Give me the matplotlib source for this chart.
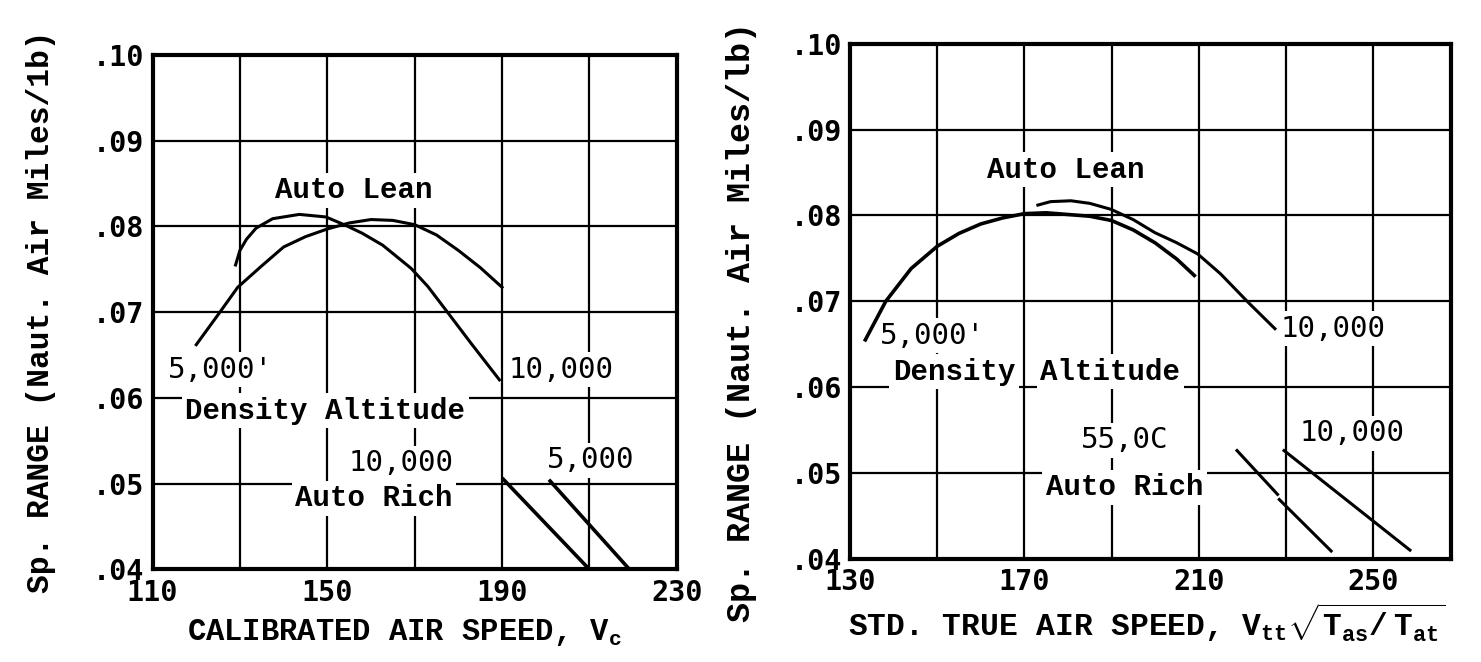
import numpy as np
import matplotlib.pyplot as plt
from matplotlib.ticker import FixedLocator, FuncFormatter

plt.rcParams['mathtext.fontset'] = 'custom'
plt.rcParams['mathtext.rm'] = 'Liberation Mono:bold'
plt.rcParams['mathtext.it'] = 'Liberation Mono:bold'
plt.rcParams['mathtext.bf'] = 'Liberation Mono:bold'

# ---- left chart: calibrated air speed ----
cas_lean_5k = [120.0, 125.0, 129.5, 135.0, 140.0, 145.0, 150.0, 155.0, 160.0,
               165.0, 170.0, 175.0, 180.0, 185.0, 190.0]
sr_lean_5k = [.0662, .0697, .0729, .0754, .0776, .0788, .0797, .0804, .0808,
              .0807, .0802, .0790, .0772, .0752, .0729]

cas_lean_10k = [129.0, 130.0, 131.5, 133.7, 137.5, 143.6, 149.7, 154.3, 158.0,
                162.7, 169.2, 173.0, 177.2, 183.0, 189.4]
sr_lean_10k = [.0755, .0772, .0785, .0798, .0809, .0814, .0811, .0801, .0792,
               .0778, .0751, .0730, .0702, .0663, .0621]

cas_rich_10k = [190.3, 209.6]
sr_rich_10k = [.0505, .0402]
cas_rich_5k = [201.0, 218.8]
sr_rich_5k = [.0503, .0402]

# ---- right chart: std true air speed ----
tas_lean_5k = [133.5, 138.2, 144.0, 150.0, 155.0, 160.0, 165.0, 170.0, 175.0,
               180.0, 185.0, 190.0, 195.0, 200.0, 205.0, 209.0]
sr2_lean_5k = [.0655, .0700, .0738, .0764, .0779, .0790, .0797, .0802, .0803,
               .0801, .0799, .0794, .0783, .0768, .0749, .0730]

tas_lean_10k = [173.1, 176.0, 180.7, 185.0, 189.9, 195.0, 199.9, 205.0, 209.8,
                215.0, 221.3, 227.5]
sr2_lean_10k = [.0812, .0816, .0817, .0814, .0807, .0795, .0780, .0768, .0755,
                .0732, .0699, .0668]

tas_rich_5k_a = [218.8, 228.1]
sr2_rich_5k_a = [.0526, .0475]
tas_rich_5k_b = [228.5, 240.4]
sr2_rich_5k_b = [.0469, .0409]
tas_rich_10k = [229.6, 258.5]
sr2_rich_10k = [.0526, .0410]

y_ticks = [.04, .05, .06, .07, .08, .09, .10]

fig = plt.figure(figsize=(14.81, 6.62), dpi=100)
ax1 = fig.add_axes([0.103, 0.140, 0.354, 0.777])
ax2 = fig.add_axes([0.574, 0.156, 0.406, 0.778])

box = dict(facecolor='white', edgecolor='none', boxstyle='square,pad=0.12')
num_font = dict(family='DejaVu Sans Mono', fontsize=21, zorder=1.8, bbox=box)
bold_font = dict(family='Liberation Mono', weight='bold', fontsize=21,
                 zorder=1.8, bbox=box)


def style(ax, xlim, major, minor):
    ax.set_xlim(*xlim)
    ax.set_ylim(.04, .10)
    ax.xaxis.set_major_locator(FixedLocator(major))
    ax.xaxis.set_minor_locator(FixedLocator(minor))
    ax.yaxis.set_major_locator(FixedLocator(y_ticks))
    ax.yaxis.set_major_formatter(FuncFormatter(lambda v, p: f"{v:.2f}"[1:]))
    ax.grid(True, which='both', color='black', lw=1.6)
    ax.tick_params(which='both', length=0)
    ax.tick_params(axis='x', pad=7)
    ax.tick_params(axis='y', pad=6)
    for lab in ax.get_xticklabels() + ax.get_yticklabels():
        lab.set_family('DejaVu Sans Mono')
        lab.set_fontsize(20.5)
        lab.set_weight('bold')
    for s in ax.spines.values():
        s.set_linewidth(3.0)


# left
style(ax1, (110, 230), [110, 150, 190, 230], [130, 170, 210])
ax1.plot(cas_lean_5k, sr_lean_5k, color='black', lw=2.2)
ax1.plot(cas_lean_10k, sr_lean_10k, color='black', lw=2.2)
ax1.plot(cas_rich_10k, sr_rich_10k, color='black', lw=2.6)
ax1.plot(cas_rich_5k, sr_rich_5k, color='black', lw=2.6)

ax1.text(156, .0842, "Auto Lean", ha='center', va='center', **bold_font)
ax1.text(113.5, .0633, "5,000'", ha='left', va='center', **num_font)
ax1.text(117.5, .0585, "Density Altitude", ha='left', va='center', **bold_font)
ax1.text(191.5, .0633, "10,000", ha='left', va='center', **num_font)
ax1.text(154.8, .0524, "10,000", ha='left', va='center', **num_font)
ax1.text(200.3, .0527, "5,000", ha='left', va='center', **num_font)
ax1.text(142.7, .0483, "Auto Rich", ha='left', va='center', **bold_font)

ax1.set_xlabel(r"CALIBRATED AIR SPEED, V$_{\mathrm{c}}$", family='Liberation Mono',
               weight='bold', fontsize=22)
ax1.xaxis.set_label_coords(0.48, -0.093)
ax1.set_ylabel("Sp. RANGE (Naut. Air Miles/1b)", family='Liberation Mono',
               weight='bold', fontsize=22.5)
ax1.yaxis.set_label_coords(-0.185, 0.50)

# right
style(ax2, (130, 268), [130, 170, 210, 250], [150, 190, 230])
ax2.plot(tas_lean_5k, sr2_lean_5k, color='black', lw=2.6)
ax2.plot(tas_lean_10k, sr2_lean_10k, color='black', lw=2.2)
ax2.plot(tas_rich_5k_a, sr2_rich_5k_a, color='black', lw=2.2)
ax2.plot(tas_rich_5k_b, sr2_rich_5k_b, color='black', lw=2.2)
ax2.plot(tas_rich_10k, sr2_rich_10k, color='black', lw=2.2)

ax2.text(161.4, .0853, "Auto Lean", ha='left', va='center', **bold_font)
ax2.text(136.8, .0660, "5,000'", ha='left', va='center', **num_font)
ax2.text(139.8, .0618, "Density", ha='left', va='center', **bold_font)
ax2.text(173.6, .0618, "Altitude", ha='left', va='center', **bold_font)
ax2.text(228.9, .0668, "10,000", ha='left', va='center', **num_font)
ax2.text(183.0, .0538, "55,0C", ha='left', va='center', **num_font)
ax2.text(233.2, .0546, "10,000", ha='left', va='center', **num_font)
ax2.text(174.9, .0483, "Auto Rich", ha='left', va='center', **bold_font)

ax2.set_xlabel(r"STD. TRUE AIR SPEED, V$_{\mathrm{tt}}\sqrt{\mathrm{T_{as}/\ T_{at}}}$",
               family='Liberation Mono', weight='bold', fontsize=22.5)
ax2.xaxis.set_label_coords(0.494, -0.082)
ax2.set_ylabel("Sp. RANGE (Naut. Air Miles/lb)", family='Liberation Mono',
               weight='bold', fontsize=24)
ax2.yaxis.set_label_coords(-0.155, 0.46)

fig.savefig("out.png", dpi=100)
